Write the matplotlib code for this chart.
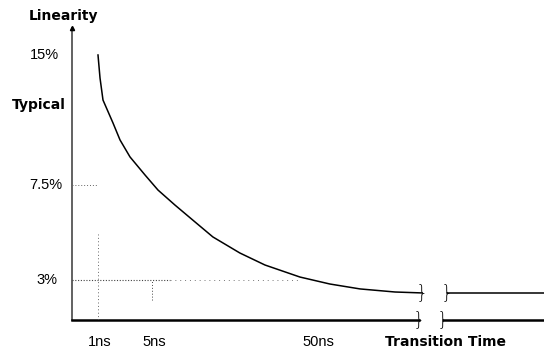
import numpy as np
import matplotlib
matplotlib.use("Agg")
import matplotlib.pyplot as plt

# schematic axes: tick values are not evenly spaced in the original drawing
x_ticks = [1, 5, 50]
x_tick_labels = ["1ns", "5ns", "50ns"]
y_ticks = [15, 12, 7.5, 3]
y_tick_labels = ["15%", "Typical", "7.5%", "3%"]

# linearity curve (ns, %)
curve_ns = [1.0, 1.15, 1.37, 2.11, 2.63, 3.37, 4.48, 6.65, 11.3, 16.8, 21.7,
            29.1, 36.0, 45.6, 53.8, 62.1, 71.7, 79.1]
curve_pct = [15.0, 13.67, 12.4, 11.08, 10.10, 9.12, 8.08, 7.26, 6.55, 5.75,
             5.04, 4.28, 3.71, 3.14, 2.70, 2.33, 2.10, 2.03]
# flat part after the axis break
tail_ns = [85.9, 120]
tail_pct = [2.03, 2.03]
curve_breaks = [79.1, 85.9]
axis_breaks = [78.3, 84.9]

# piecewise mapping of the hand-drawn axes
x_knots = [-10, 0, 1, 5, 50, 150]
x_pos = [-260, 0, 26, 80, 244, 608]
y_knots = [-10, 0, 3, 7.5, 15, 20]
y_pos = [-133, 0, 40, 135, 265, 352]


def fx(v):
    return np.interp(v, x_knots, x_pos)


def fx_inv(v):
    return np.interp(v, x_pos, x_knots)


def fy(v):
    return np.interp(v, y_knots, y_pos)


def fy_inv(v):
    return np.interp(v, y_pos, y_knots)


fig = plt.figure(figsize=(5.44, 3.5), dpi=100)
ax = fig.add_axes([72 / 544, 30 / 350, 472 / 544, 292 / 350])
ax.set_xscale("function", functions=(fx, fx_inv))
ax.set_yscale("function", functions=(fy, fy_inv))
xmax = fx_inv(472)
ymax = fy_inv(292)
ax.set_xlim(0, xmax)
ax.set_ylim(0, ymax)
ax.axis("off")

reg = dict(family="Liberation Sans", fontsize=10.5)
bold = dict(family="DejaVu Sans", fontsize=10, fontweight="bold")

# axes drawn by hand so the x axis can be broken
ax.plot([0, 0], [0, ymax], color="#555555", lw=1.3, clip_on=False)
ax.plot([0, axis_breaks[0]], [0, 0], color="black", lw=1.8, clip_on=False)
ax.plot([axis_breaks[1], xmax], [0, 0], color="black", lw=1.8, clip_on=False)
ax.plot([0], [ymax], marker="^", ms=3, color="black", clip_on=False)

# dotted guides
ax.plot([0, 1], [7.5, 7.5], ls=(0, (1, 2)), color="#666666", lw=0.7)
ax.plot([0, 10], [3, 3], ls=(0, (1, 1.5)), color="#444444", lw=0.8)
ax.plot([10, 45], [3, 3], ls=(0, (1, 4)), color="#777777", lw=0.7)
ax.plot([1, 1], [0, 5.2], ls=(0, (1, 2.5)), color="#666666", lw=0.7)
ax.plot([5, 5], [1.5, 3], ls=(0, (1, 2)), color="#444444", lw=0.7)

# curve
ax.plot(curve_ns, curve_pct, color="black", lw=1.1, clip_on=False)
ax.plot(tail_ns, tail_pct, color="black", lw=1.1, clip_on=False)

# break marks
for xb in curve_breaks:
    ax.text(xb, tail_pct[0], "}", ha="center", va="center", fontsize=14,
            family="DejaVu Sans", fontweight="light")
for xb in axis_breaks:
    ax.text(xb, 0, "}", ha="center", va="center", fontsize=14,
            family="DejaVu Sans", fontweight="light", clip_on=False)

# tick labels
y_label_gap = [13, 6, 10, 15]
for v, lab, gap in zip(y_ticks, y_tick_labels, y_label_gap):
    style = bold if lab == "Typical" else reg
    ax.annotate(lab, (0, v), xytext=(-gap, 2 if lab == "Typical" else 0),
                textcoords="offset pixels", ha="right", va="center", **style)
for v, lab in zip(x_ticks, x_tick_labels):
    ax.annotate(lab, (v, 0), xytext=(2, -22), textcoords="offset pixels",
                ha="center", va="center", **reg)
ax.annotate("Transition Time", (axis_breaks[0], 0), xytext=(26, -22),
            textcoords="offset pixels", ha="center", va="center", **bold)
ax.annotate("Linearity", (0, ymax), xytext=(-8, 12),
            textcoords="offset pixels", ha="center", va="center", **bold)

fig.savefig("out.png", dpi=100)
